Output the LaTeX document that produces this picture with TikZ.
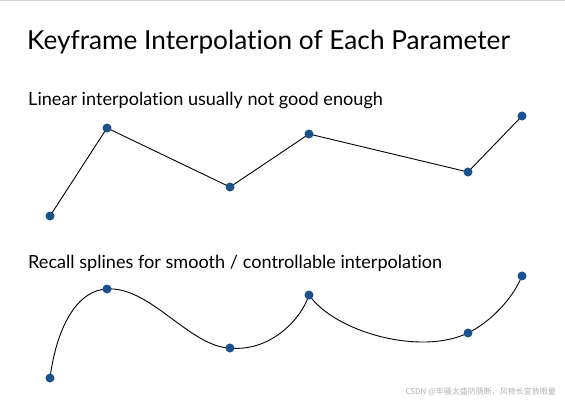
\documentclass[tikz,border=0pt]{standalone}
\usepackage{fontspec}
\setmainfont{Lato}[Ligatures={NoCommon}]
\newfontfamily\cjkfont{Noto Sans CJK SC}
\definecolor{dotblue}{RGB}{27,82,140}
\definecolor{wmgray}{RGB}{178,178,178}
\definecolor{topline}{RGB}{212,212,212}
\begin{document}
\begin{tikzpicture}[x=1pt,y=-1pt,
  keydot/.style={circle,fill=dotblue,inner sep=0pt,minimum size=9pt},
  seg/.style={line width=0.9pt,black},
  heading/.style={anchor=base west,inner sep=0pt,font=\fontsize{26.2}{30}\selectfont},
  subhead/.style={anchor=base west,inner sep=0pt,font=\fontsize{18.1}{21}\selectfont},
  watermark/.style={anchor=base east,inner sep=0pt,text=wmgray,font=\cjkfont\fontsize{8}{9}\selectfont}]
\useasboundingbox[fill=white] (0,0) rectangle (565,404);
\fill[topline] (0,0) rectangle (565,1.2);
\node[heading] (title) at (27,50) {Keyframe Interpolation of Each Parameter};
\node[subhead] (sub1) at (28,106) {Linear interpolation usually not good enough};
\node[subhead] (sub2) at (28,268) {Recall splines for smooth / controllable interpolation};
% linear
\draw[seg] (50,216) coordinate (p1) -- (107,128) coordinate (p2) -- (230,187) coordinate (p3)
  -- (309,134) coordinate (p4) -- (468,172) coordinate (p5) -- (522,116) coordinate (p6);
\foreach \n/\p in {t1/p1,t2/p2,t3/p3,t4/p4,t5/p5,t6/p6} \node[keydot] (\n) at (\p) {};
% spline
\coordinate (q1) at (50,378);
\coordinate (q2) at (107,289);
\coordinate (q3) at (230,348);
\coordinate (q4) at (309,295);
\coordinate (q5) at (468,333);
\coordinate (q6) at (522,276);
\draw[seg] (q1) .. controls (57,325) and (78,290) .. (q2)
  .. controls (150,286) and (190,347) .. (q3)
  .. controls (268,352) and (300,322) .. (q4)
  .. controls (335,332) and (420,356) .. (q5)
  .. controls (490,322) and (512,300) .. (q6);
\foreach \n/\p in {b1/q1,b2/q2,b3/q3,b4/q4,b5/q5,b6/q6} \node[keydot] (\n) at (\p) {};
\node[watermark] (wm) at (556,394) {CSDN @牢骚太盛防肠断，风物长宜放眼量};
\end{tikzpicture}
\end{document}
